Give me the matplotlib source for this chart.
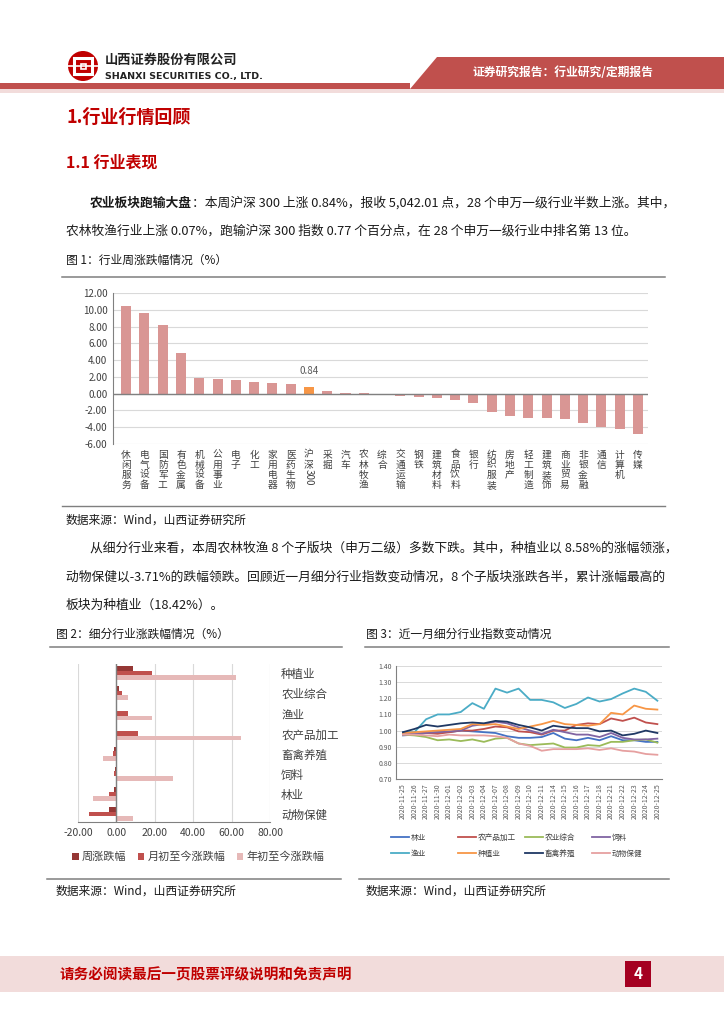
import matplotlib
matplotlib.use("Agg")
import matplotlib.pyplot as plt
from matplotlib.patches import Polygon, Rectangle, Circle
from matplotlib.lines import Line2D
import numpy as np

plt.rcParams['font.family'] = ['Noto Sans CJK SC', 'DejaVu Sans']
plt.rcParams['axes.unicode_minus'] = False

# ---------------- data ----------------
ind_names = ["休闲服务", "电气设备", "国防军工", "有色金属", "机械设备", "公用事业", "电子", "化工",
             "家用电器", "医药生物", "沪深300", "采掘", "汽车", "农林牧渔", "综合", "交通运输", "钢铁",
             "建筑材料", "食品饮料", "银行", "纺织服装", "房地产", "轻工制造", "建筑装饰", "商业贸易",
             "非银金融", "通信", "计算机", "传媒"]
ind_values = [10.5, 9.6, 8.2, 4.85, 1.85, 1.75, 1.6, 1.4, 1.3, 1.1, 0.84, 0.35, 0.12, 0.07, -0.15,
              -0.25, -0.35, -0.55, -0.7, -1.1, -2.15, -2.7, -2.85, -2.9, -3.05, -3.5, -4.0, -4.2, -4.75]

sub_names = ["种植业", "农业综合", "渔业", "农产品加工", "畜禽养殖", "饲料", "林业", "动物保健"]
sub_week = [8.58, 1.6, 0.5, -0.3, -1.0, -0.9, -1.4, -3.71]
sub_month = [18.42, 2.9, 6.1, 11.2, -1.9, -1.4, -3.9, -14.2]
sub_year = [62.5, 6.0, 18.8, 64.9, -7.0, 29.6, -12.3, 8.8]
sub_series_names = ["周涨跌幅", "月初至今涨跌幅", "年初至今涨跌幅"]

dates = ["2020-11-25", "2020-11-26", "2020-11-27", "2020-11-30", "2020-12-01", "2020-12-02",
         "2020-12-03", "2020-12-04", "2020-12-07", "2020-12-08", "2020-12-09", "2020-12-10",
         "2020-12-11", "2020-12-14", "2020-12-15", "2020-12-16", "2020-12-17", "2020-12-18",
         "2020-12-21", "2020-12-22", "2020-12-23", "2020-12-24", "2020-12-25"]
s_linye = [0.97, 0.975, 0.985, 0.99, 0.99, 1.00, 0.995, 0.99, 0.985, 0.965, 0.955, 0.955, 0.96,
           0.985, 0.95, 0.94, 0.955, 0.94, 0.965, 0.94, 0.94, 0.93, 0.93]
s_ncpjg = [0.975, 0.98, 0.985, 0.98, 0.99, 1.00, 1.00, 1.01, 1.025, 1.02, 0.995, 0.99, 0.975,
           1.00, 1.00, 1.035, 1.045, 1.04, 1.075, 1.06, 1.08, 1.05, 1.04]
s_nyzh = [0.975, 0.97, 0.96, 0.94, 0.945, 0.935, 0.945, 0.93, 0.95, 0.955, 0.92, 0.91, 0.915,
          0.92, 0.895, 0.895, 0.91, 0.905, 0.93, 0.93, 0.94, 0.945, 0.925]
s_siliao = [0.975, 0.98, 0.985, 0.99, 0.995, 1.00, 1.03, 1.04, 1.055, 1.045, 1.02, 1.00, 0.98,
            1.005, 0.99, 0.975, 0.975, 0.96, 0.985, 0.955, 0.945, 0.945, 0.95]
s_yuye = [0.99, 0.99, 1.07, 1.10, 1.10, 1.115, 1.17, 1.135, 1.26, 1.235, 1.26, 1.19, 1.19,
          1.175, 1.14, 1.165, 1.205, 1.18, 1.195, 1.23, 1.26, 1.24, 1.185]
s_zhongzhi = [0.985, 0.99, 0.995, 1.00, 1.005, 1.01, 1.04, 1.035, 1.04, 1.025, 1.01, 1.025, 1.04,
              1.06, 1.04, 1.035, 1.03, 1.04, 1.11, 1.10, 1.155, 1.135, 1.13]
s_xqyz = [0.99, 1.01, 1.035, 1.025, 1.035, 1.045, 1.05, 1.045, 1.06, 1.055, 1.035, 1.02, 1.00,
          1.03, 1.02, 1.015, 1.015, 0.995, 1.00, 0.97, 0.98, 1.00, 0.985]
s_dwbj = [0.975, 0.975, 0.97, 0.965, 0.975, 0.97, 0.97, 0.97, 0.965, 0.955, 0.92, 0.905, 0.875,
          0.885, 0.885, 0.885, 0.89, 0.88, 0.89, 0.875, 0.87, 0.855, 0.85]
line_names = ["林业", "农产品加工", "农业综合", "饲料", "渔业", "种植业", "畜禽养殖", "动物保健"]
line_series = [s_linye, s_ncpjg, s_nyzh, s_siliao, s_yuye, s_zhongzhi, s_xqyz, s_dwbj]
line_colors = ["#4472C4", "#C0504D", "#9BBB59", "#8064A2", "#4BACC6", "#F79646", "#1F3864", "#E6A0A0"]

# ---------------- figure ----------------
W, H = 724, 1024
fig = plt.figure(figsize=(W / 100, H / 100), dpi=100)
fig.patch.set_facecolor("white")

bg = fig.add_axes([0, 0, 1, 1], zorder=-5)
bg.set_xlim(0, W)
bg.set_ylim(H, 0)
bg.axis("off")


def axpx(l, t, r, b):
    return fig.add_axes([l / W, 1 - b / H, (r - l) / W, (b - t) / H])


def T(x, y, s, **kw):
    kw.setdefault("va", "center")
    kw.setdefault("ha", "left")
    return fig.text(x / W, 1 - y / H, s, **kw)


def hline(x0, x1, y, color="#7F7F7F", lw=1.0):
    bg.add_line(Line2D([x0, x1], [y, y], color=color, lw=lw))


RED = "#C0504D"
TXT = "#1A1A1A"

# ---- header ----
bg.add_patch(Polygon([[410, 89], [437, 57], [W, 57], [W, 89]], closed=True, color=RED, lw=0))
bg.add_patch(Rectangle((0, 83), 410, 6, color=RED, lw=0))
bg.add_patch(Rectangle((0, 89), W, 4, color="#F2DCDB", lw=0))
T(473, 73, "证券研究报告：行业研究/定期报告", color="white", fontsize=8.5, fontweight="bold")

# logo
bg.add_patch(Circle((83, 66), 15, color="#C00000", lw=0))
bg.add_patch(Rectangle((74, 58), 18, 16, fill=False, ec="white", lw=2.2))
bg.add_line(Line2D([68, 98], [66, 66], color="white", lw=1.2))
bg.add_patch(Rectangle((79.5, 62.5), 7, 7, color="#C00000", lw=0))
bg.add_patch(Rectangle((80.5, 63.5), 5, 5, fill=False, ec="white", lw=1.2))
T(105, 60, "山西证券股份有限公司", color="#222222", fontsize=9.5, fontweight="bold")
T(105, 76, "SHANXI SECURITIES CO., LTD.", color="#222222", fontsize=6.8, fontweight="bold",
  family=["DejaVu Sans"])

# titles
T(66, 117, "1.行业行情回顾", color="#C00000", fontsize=13, fontweight="bold")
T(66, 163, "1.1 行业表现", color="#C00000", fontsize=11.5, fontweight="bold")

# paragraph 1
renderer = fig.canvas.get_renderer()
t0 = T(90, 203, "农业板块跑输大盘", color=TXT, fontsize=9.2, fontweight="bold")
bb = t0.get_window_extent(renderer=renderer)
T(bb.x1 / 1.0, 203, "：本周沪深 300 上涨 0.84%，报收 5,042.01 点，28 个申万一级行业半数上涨。其中，",
  color=TXT, fontsize=9.2)
T(66, 231, "农林牧渔行业上涨 0.07%，跑输沪深 300 指数 0.77 个百分点，在 28 个申万一级行业中排名第 13 位。",
  color=TXT, fontsize=9.2)
T(66, 260, "图 1：行业周涨跌幅情况（%）", color=TXT, fontsize=8.5)
hline(62, 665, 277, color="#7F7F7F", lw=1.1)

# ---- chart 1 ----
ax1 = axpx(113, 293, 648, 444)
x1 = np.arange(len(ind_names))
cols = ["#F79646" if n == "沪深300" else "#D99694" for n in ind_names]
ax1.bar(x1, ind_values, width=0.55, color=cols, zorder=3)
ax1.set_xlim(-0.72, len(ind_names) - 0.45)
ax1.set_ylim(-6, 12)
ax1.set_yticks(np.arange(-6, 12.1, 2))
ax1.set_yticklabels([f"{v:.2f}" for v in np.arange(-6, 12.1, 2)], fontsize=7, color="#404040")
ax1.yaxis.grid(True, color="#D9D9D9", lw=0.8, zorder=0)
ax1.axhline(0, color="#808080", lw=1.0, zorder=4)
for s in ["top", "right", "bottom"]:
    ax1.spines[s].set_visible(False)
ax1.spines["left"].set_color("#808080")
ax1.tick_params(axis="y", length=0, pad=4)
ax1.set_xticks(x1)
lab = []
for n in ind_names:
    if n == "沪深300":
        lab.append("沪\n深")
    else:
        lab.append("\n".join(n))
ax1.set_xticklabels(lab, fontsize=7, color="#404040", linespacing=1.0, va="top")
ax1.tick_params(axis="x", length=0, pad=4)
i_hs = ind_names.index("沪深300")
ax1.annotate("300", (x1[i_hs], -6), xytext=(0, -18), textcoords="offset points",
             ha="center", va="top", fontsize=7, color="#404040", rotation=-90,
             annotation_clip=False)
ax1.annotate(f"{ind_values[i_hs]:.2f}", (x1[i_hs], ind_values[i_hs]), xytext=(0, 8),
             textcoords="offset points", ha="center", va="bottom", fontsize=7, color="#595959")
hline(62, 665, 506, color="#7F7F7F", lw=1.0)

T(66, 520, "数据来源：Wind，山西证券研究所", color=TXT, fontsize=8.5)
T(90, 548, "从细分行业来看，本周农林牧渔 8 个子版块（申万二级）多数下跌。其中，种植业以 8.58%的涨幅领涨，",
  color=TXT, fontsize=9.2)
T(66, 577, "动物保健以-3.71%的跌幅领跌。回顾近一月细分行业指数变动情况，8 个子版块涨跌各半，累计涨幅最高的",
  color=TXT, fontsize=9.2)
T(66, 605, "板块为种植业（18.42%）。", color=TXT, fontsize=9.2)

T(56, 634, "图 2：细分行业涨跌幅情况（%）", color=TXT, fontsize=8.5)
T(366, 634, "图 3：近一月细分行业指数变动情况", color=TXT, fontsize=8.5)
hline(50, 342, 647, lw=1.1)
hline(365, 669, 647, lw=1.1)
hline(47, 341, 879, lw=1.1)
hline(359, 669, 879, lw=1.1)

# ---- chart 2 ----
ax2 = axpx(78, 664, 270, 822)
y2 = np.arange(len(sub_names))
bh = 0.23
c2 = ["#953735", "#C0504D", "#E6B9B8"]
ax2.barh(y2 - bh, sub_week, height=bh, color=c2[0], label=sub_series_names[0], zorder=3)
ax2.barh(y2, sub_month, height=bh, color=c2[1], label=sub_series_names[1], zorder=3)
ax2.barh(y2 + bh, sub_year, height=bh, color=c2[2], label=sub_series_names[2], zorder=3)
ax2.set_xlim(-20, 80)
ax2.set_ylim(len(sub_names) - 0.6, -0.45)
ax2.set_xticks(np.arange(-20, 81, 20))
ax2.set_xticklabels([f"{v:.2f}" for v in np.arange(-20, 81, 20)], fontsize=7.5, color="#404040")
ax2.xaxis.grid(True, color="#D9D9D9", lw=0.8, zorder=0)
ax2.axvline(0, color="#808080", lw=1.0, zorder=4)
for s in ["top", "right", "left"]:
    ax2.spines[s].set_visible(False)
ax2.spines["bottom"].set_color("#808080")
ax2.yaxis.tick_right()
ax2.set_yticks(y2)
ax2.set_yticklabels(sub_names, fontsize=8.3, color="#404040")
ax2.tick_params(axis="y", length=0, pad=8)
ax2.tick_params(axis="x", length=0, pad=4)
ax2.legend(loc="center left", bbox_to_anchor=(72 / W, 1 - 857 / H), bbox_transform=fig.transFigure,
           ncol=3, frameon=False, fontsize=8, handlelength=0.6, handleheight=0.6,
           handletextpad=0.3, columnspacing=1.0, labelcolor="#404040", borderaxespad=0, borderpad=0)

# ---- chart 3 ----
ax3 = axpx(396, 666, 662, 779)
xd = np.arange(len(dates))
handles = []
for name, ser, c in zip(line_names, line_series, line_colors):
    h, = ax3.plot(xd, ser, color=c, lw=1.3, label=name, zorder=3)
    handles.append(h)
ax3.set_xlim(-0.6, len(dates) - 0.6)
ax3.set_ylim(0.70, 1.40)
ax3.set_yticks(np.arange(0.70, 1.401, 0.10))
ax3.set_yticklabels([f"{v:.2f}" for v in np.arange(0.70, 1.401, 0.10)], fontsize=5, color="#595959")
ax3.yaxis.grid(True, color="#D9D9D9", lw=0.7, zorder=0)
for s in ["top", "right"]:
    ax3.spines[s].set_visible(False)
ax3.spines["left"].set_color("#808080")
ax3.spines["bottom"].set_color("#808080")
ax3.set_xticks(xd)
ax3.set_xticklabels(dates, rotation=90, fontsize=5, color="#595959")
ax3.tick_params(axis="both", length=0, pad=3)
# legend: 4 fixed-width columns, 2 rows
col_x = [391, 458, 525, 592]
for ci in range(4):
    idx = [ci, ci + 4]
    leg = fig.legend([handles[i] for i in idx], [line_names[i] for i in idx],
                     loc="upper left", bbox_to_anchor=(col_x[ci] / W, 1 - 834 / H),
                     frameon=False, fontsize=5.5, handlelength=2.3, handletextpad=0.3,
                     labelcolor="#404040", borderaxespad=0, borderpad=0, labelspacing=1.0)

T(56, 891, "数据来源：Wind，山西证券研究所", color=TXT, fontsize=8.5)
T(366, 891, "数据来源：Wind，山西证券研究所", color=TXT, fontsize=8.5)

# ---- footer ----
bg.add_patch(Rectangle((0, 956), W, 36, color="#F2DCDB", lw=0))
T(60, 974, "请务必阅读最后一页股票评级说明和免责声明", color="#C00000", fontsize=10.5, fontweight="bold")
bg.add_patch(Rectangle((625, 961), 26, 26, color="#A50021", lw=0))
T(638, 974, "4", color="white", fontsize=11, fontweight="bold", ha="center")

fig.savefig("out.png", dpi=100)
